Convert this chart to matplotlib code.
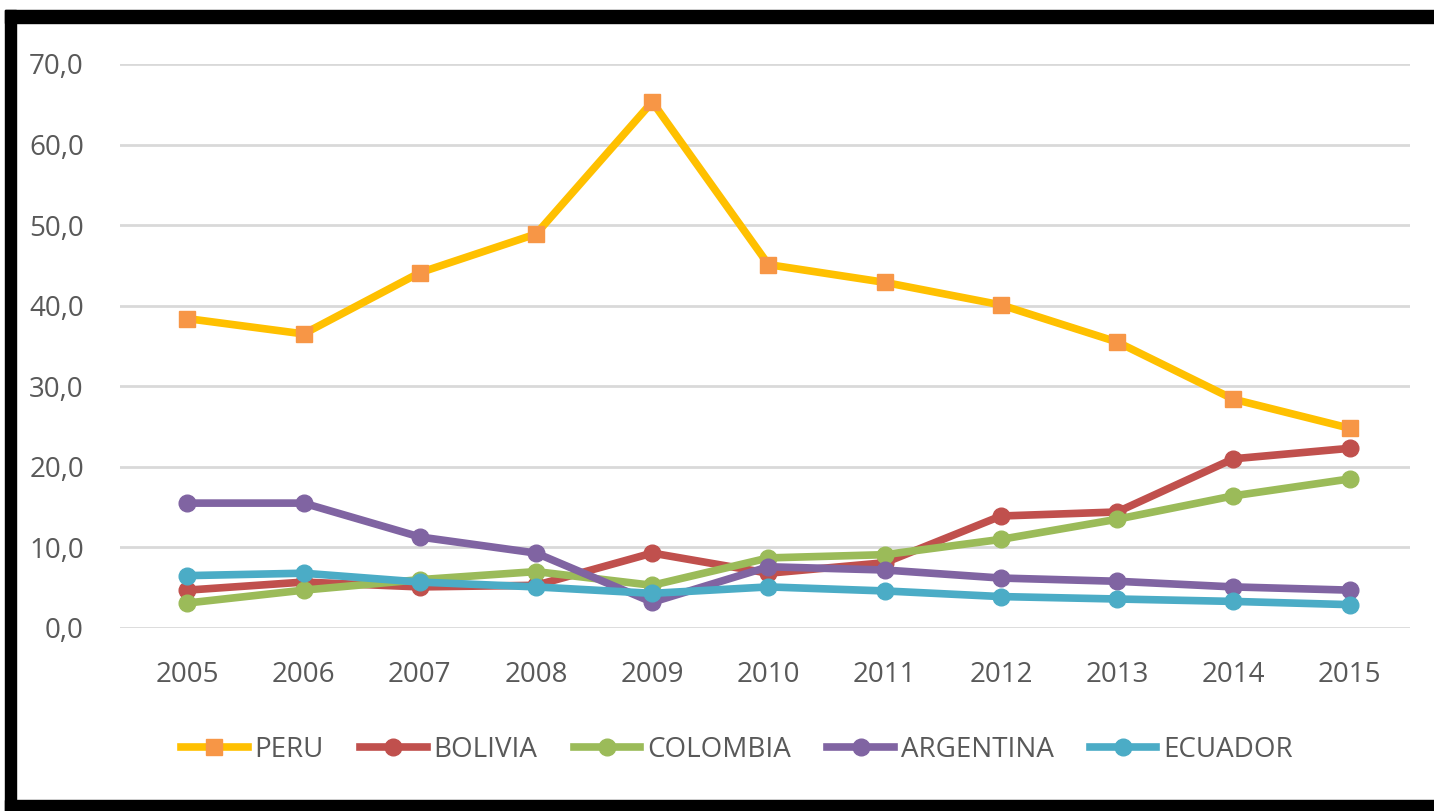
import matplotlib
matplotlib.use("Agg")
import matplotlib.pyplot as plt
from matplotlib.patches import Rectangle
from matplotlib.ticker import FuncFormatter

years = ["2005", "2006", "2007", "2008", "2009", "2010", "2011", "2012", "2013", "2014", "2015"]
peru = [38.4, 36.5, 44.1, 48.9, 65.3, 45.1, 42.9, 40.1, 35.5, 28.4, 24.8]
bolivia = [4.7, 5.7, 5.1, 5.3, 9.3, 6.8, 8.1, 13.9, 14.4, 21.0, 22.3]
colombia = [3.1, 4.7, 6.0, 7.0, 5.3, 8.7, 9.1, 11.0, 13.5, 16.4, 18.5]
argentina = [15.5, 15.5, 11.3, 9.3, 3.2, 7.6, 7.2, 6.2, 5.8, 5.1, 4.7]
ecuador = [6.5, 6.8, 5.7, 5.1, 4.3, 5.1, 4.6, 3.9, 3.6, 3.3, 2.9]
yticks = [0, 10, 20, 30, 40, 50, 60, 70]

plt.rcParams['font.family'] = ['Open Sans', 'DejaVu Sans']

W, H = 1434, 811
fig = plt.figure(figsize=(W / 100, H / 100), dpi=100)
fig.patch.set_facecolor('white')

# black frame
fig.patches.append(Rectangle((5 / W, 0), 1 - 5 / W, 11 / H, transform=fig.transFigure, color='black', zorder=0))
fig.patches.append(Rectangle((5 / W, 0), 11 / W, 1 - 10 / H, transform=fig.transFigure, color='black', zorder=0))
fig.patches.append(Rectangle((5 / W, 1 - 23 / H), 1 - 5 / W, 13 / H, transform=fig.transFigure, color='black', zorder=0))

ax = fig.add_axes([120 / W, 1 - 628 / H, 1290 / W, (628 - 64) / H])
ax.set_facecolor('none')
x = list(range(len(years)))

series = [
    ("PERU", peru, '#FFC000', '#F79646', 's'),
    ("BOLIVIA", bolivia, '#C0504D', '#C0504D', 'o'),
    ("COLOMBIA", colombia, '#9BBB59', '#9BBB59', 'o'),
    ("ARGENTINA", argentina, '#8064A2', '#8064A2', 'o'),
    ("ECUADOR", ecuador, '#4BACC6', '#4BACC6', 'o'),
]
for name, vals, lc, mc, mk in series:
    ax.plot(x, vals, color=lc, lw=5.5, marker=mk, markersize=11 if mk == 's' else 12,
            markerfacecolor=mc, markeredgecolor=mc, label=name, clip_on=False, zorder=3)

ax.set_xlim(-0.58, 10.52)
ax.set_ylim(0, 70)
ax.set_yticks(yticks)
ax.yaxis.set_major_formatter(FuncFormatter(lambda v, p: f"{v:.1f}".replace('.', ',')))
ax.set_xticks(x)
ax.set_xticklabels(years)
ax.grid(axis='y', color='#D9D9D9', lw=2)
ax.set_axisbelow(True)
for s in ax.spines.values():
    s.set_visible(False)
ax.tick_params(axis='both', length=0, labelsize=20, labelcolor='#595959')
ax.tick_params(axis='y', pad=26)
ax.tick_params(axis='x', pad=24)

leg = fig.legend(loc='center', bbox_to_anchor=(737 / W, 1 - 750 / H), ncol=5, frameon=False,
                 fontsize=20, handlelength=2.4, handletextpad=0.25, columnspacing=1.3,
                 labelcolor='#595959')

fig.savefig('out.png', dpi=100, facecolor='white')
